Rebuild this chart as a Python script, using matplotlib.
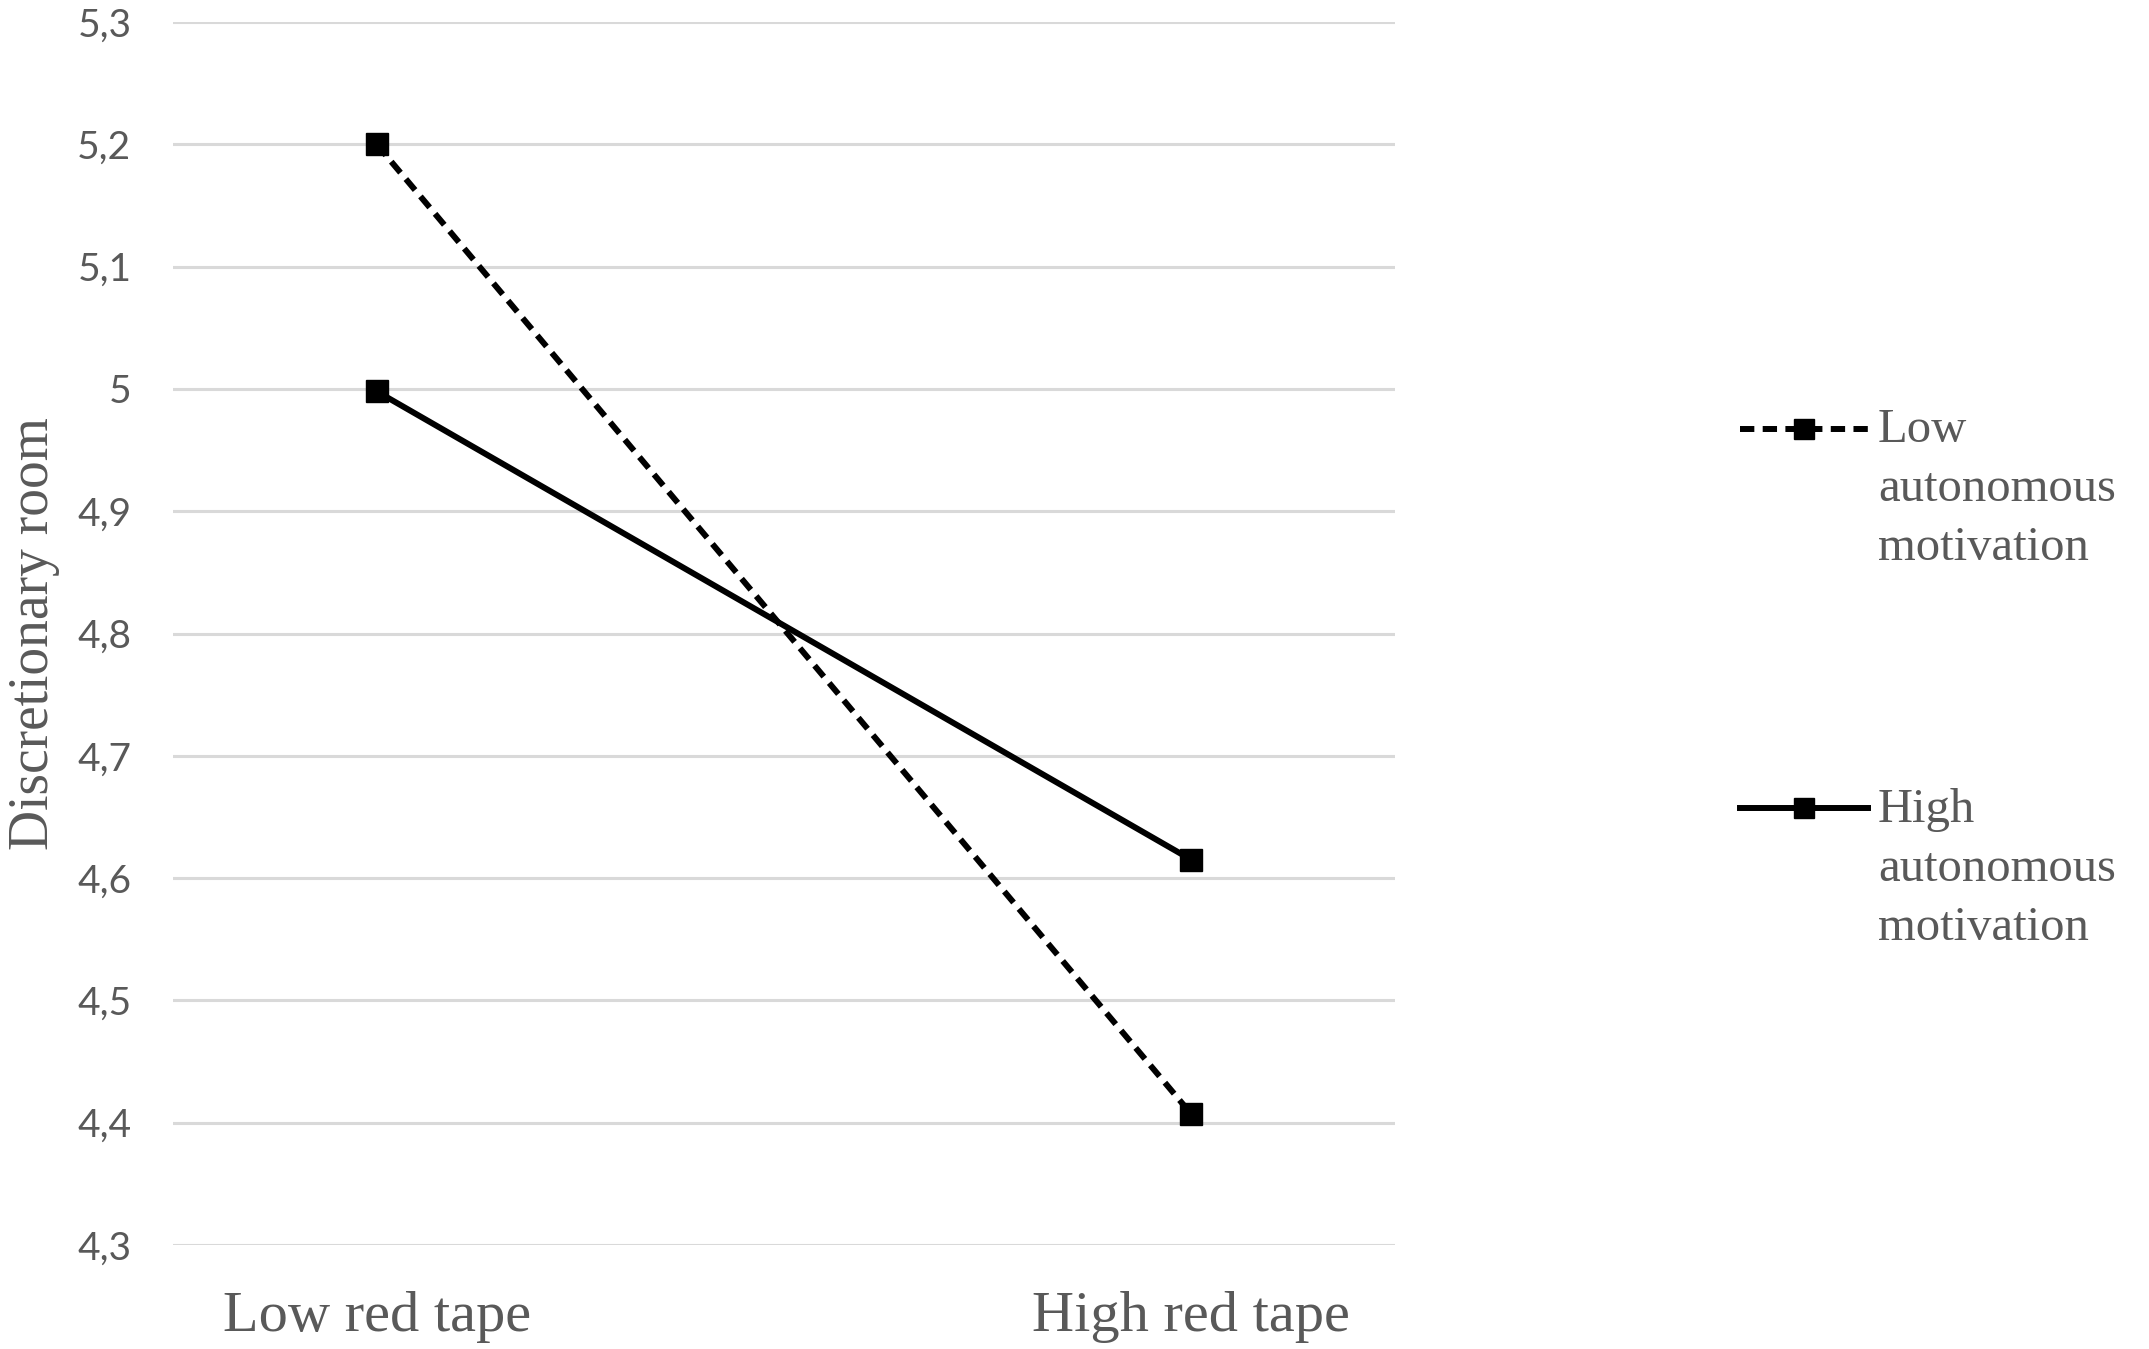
import matplotlib
matplotlib.use("Agg")
import matplotlib.pyplot as plt
from matplotlib.ticker import FixedLocator, FuncFormatter

categories = ["Low red tape", "High red tape"]
low_motivation = [5.200, 4.407]
high_motivation = [4.998, 4.615]
series_labels = ["Low\nautonomous\nmotivation", "High\nautonomous\nmotivation"]
y_ticks = [4.3, 4.4, 4.5, 4.6, 4.7, 4.8, 4.9, 5.0, 5.1, 5.2, 5.3]

W, H = 2149, 1349
fig = plt.figure(figsize=(W / 100, H / 100), dpi=100)
ax = fig.add_axes([173 / W, 1 - 1245 / H, (1395 - 173) / W, (1245 - 22) / H])

x = list(range(len(categories)))
ax.plot(x, low_motivation, color="black", lw=4.3, linestyle=(0, (2.4, 1.4)),
        marker="s", markersize=16.5, label=series_labels[0], zorder=3)
ax.plot(x, high_motivation, color="black", lw=4.3, linestyle="-",
        marker="s", markersize=16.5, label=series_labels[1], zorder=3)

ax.set_xlim(-0.25, 1.25)
ax.set_ylim(4.3, 5.3)
ax.yaxis.set_major_locator(FixedLocator(y_ticks))
ax.yaxis.set_major_formatter(FuncFormatter(lambda v, p: (f"{v:.1f}".rstrip("0").rstrip(".")).replace(".", ",")))
ax.set_xticks(x)
ax.set_xticklabels(categories, fontfamily="Liberation Serif", fontsize=42, color="#595959")
ax.tick_params(axis="x", length=0, pad=33)
ax.tick_params(axis="y", length=0, pad=30, labelsize=28, labelcolor="#595959")
for t in ax.get_yticklabels():
    t.set_fontfamily("Lato")

ax.grid(axis="y", color="#d9d9d9", lw=2.2)
ax.set_axisbelow(True)
for s in ax.spines.values():
    s.set_visible(False)

ax.set_ylabel("Discretionary room", fontfamily="Liberation Serif", fontsize=40, color="#595959")
ax.yaxis.set_label_coords(-0.0925, 0.5)

leg = fig.legend(loc="upper left", bbox_to_anchor=(1740 / W, 1 - 408 / H), frameon=False,
                 borderpad=0, borderaxespad=0, handlelength=2.64, handletextpad=0.2,
                 labelspacing=4.48, handleheight=1.2, markerscale=0.85,
                 prop={"family": "Liberation Serif", "size": 35})
for t in leg.get_texts():
    t.set_color("#595959")
    t.set_linespacing(1.44)
for col in leg._legend_handle_box.get_children():
    for item in col.get_children():
        item.align = "top"

fig.savefig("out.png", dpi=100)
